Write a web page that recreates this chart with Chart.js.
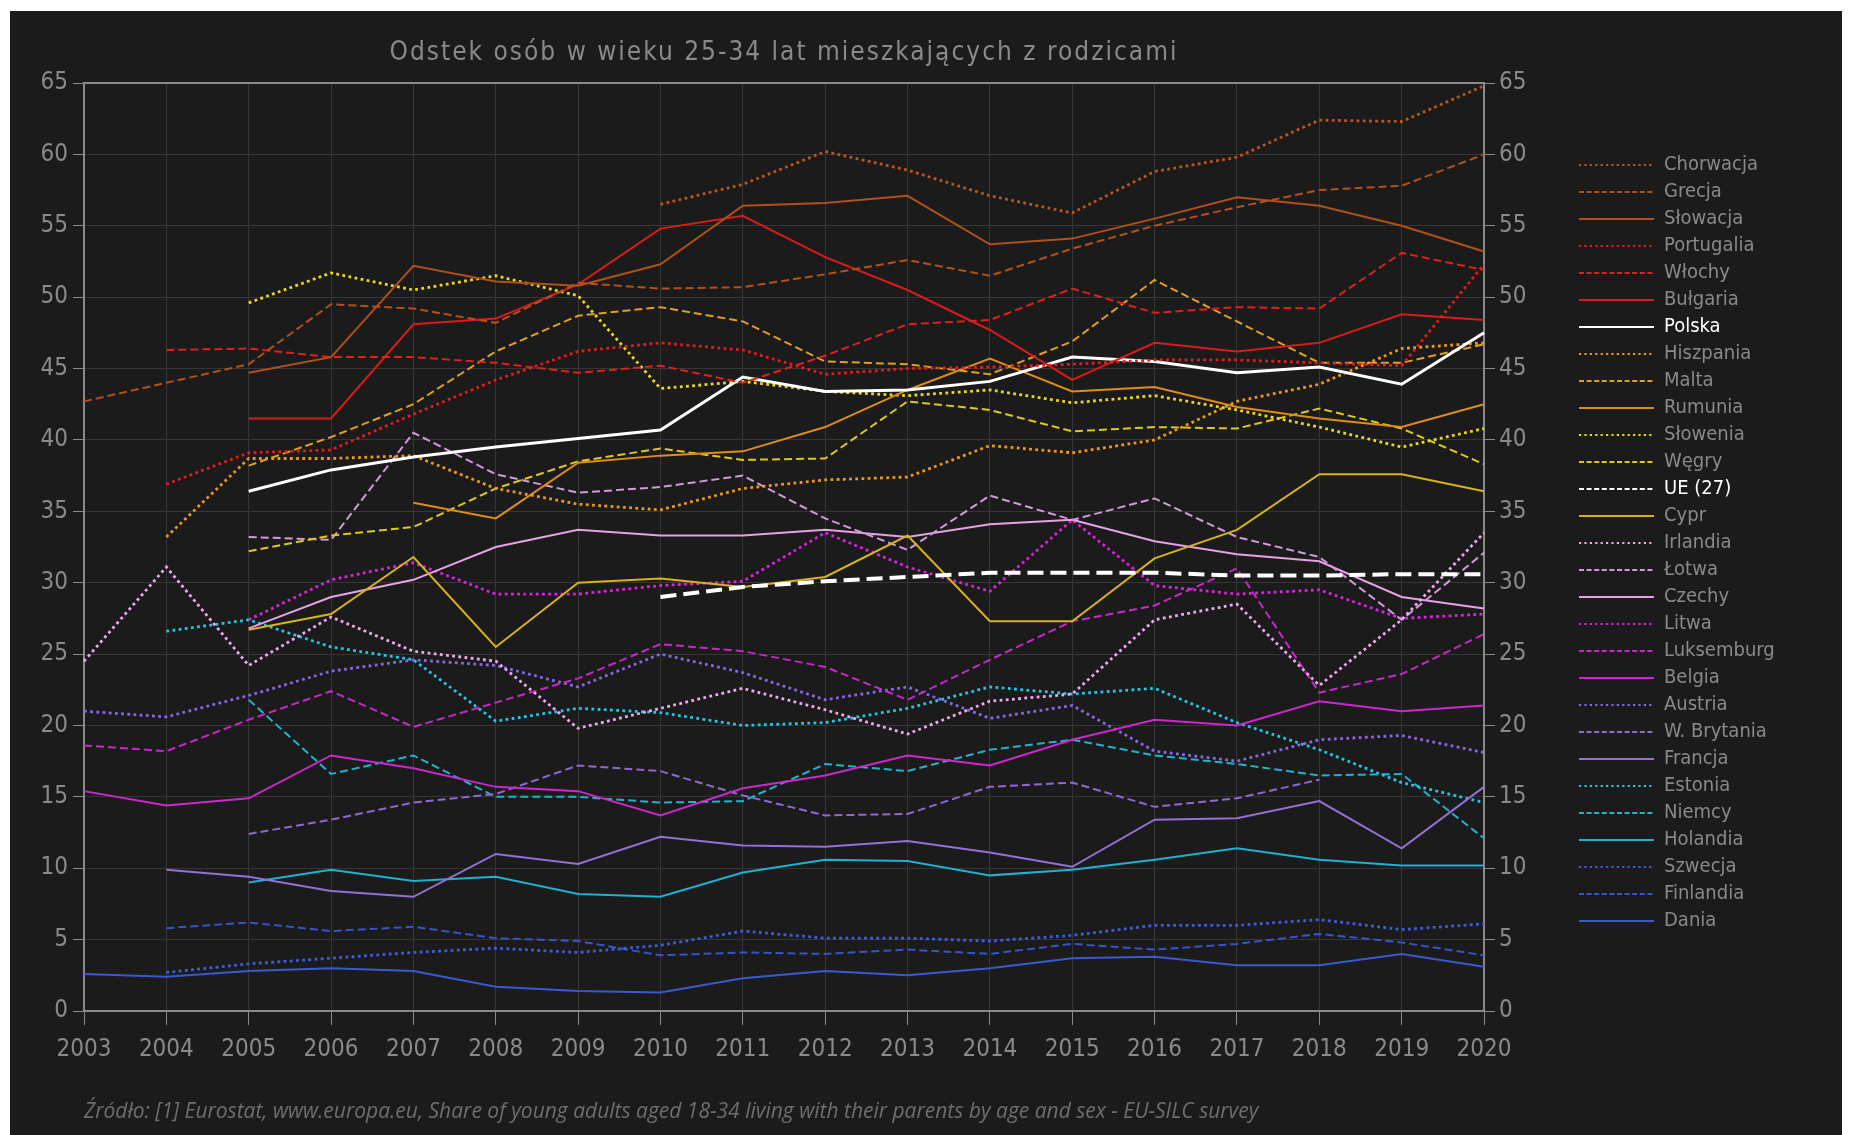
<!DOCTYPE html>
<html lang="pl">
<head>
<meta charset="utf-8">
<title>Odstek osób w wieku 25-34 lat mieszkających z rodzicami</title>
<script src="https://cdn.jsdelivr.net/npm/chart.js@4.4.1/dist/chart.umd.min.js"></script>
<style>
  html, body { margin: 0; padding: 0; background: #ffffff; }
  #panel { position: absolute; left: 10px; top: 11px; width: 1832px; height: 1124px; background: #1b1b1b; }
  #chart { position: absolute; left: 0; top: 0; }
  #title {
    position: absolute; left: 84px; width: 1400px; top: 36px; text-align: center;
    font-family: 'DejaVu Sans Condensed', 'DejaVu Sans', sans-serif; font-size: 26px;
    color: #8a8a8a; letter-spacing: 2px; white-space: nowrap;
  }
  #source {
    position: absolute; left: 84px; top: 1096px; white-space: nowrap;
    font-family: 'Open Sans', sans-serif; font-style: italic; font-size: 21px; color: #6e6e6e;
  }
</style>
</head>
<body>
<div id="panel"></div>
<canvas id="chart" width="1856" height="1135"></canvas>
<div id="title">Odstek osób w wieku 25-34 lat mieszkających z rodzicami</div>
<div id="source">Źródło: [1] Eurostat, www.europa.eu, Share of young adults aged 18-34 living with their parents by age and sex - EU-SILC survey</div>
<script>
const years = ['2003', '2004', '2005', '2006', '2007', '2008', '2009', '2010', '2011',
               '2012', '2013', '2014', '2015', '2016', '2017', '2018', '2019', '2020'];
const yTicks = [0, 5, 10, 15, 20, 25, 30, 35, 40, 45, 50, 55, 60, 65];

// values, 2003..2020, null = no data
const chorwacja  = [null, null, null, null, null, null, null, 56.5, 57.9, 60.2, 58.9, 57.1, 55.9, 58.8, 59.8, 62.4, 62.3, 64.8];
const grecja     = [42.7, 44.0, 45.3, 49.5, 49.2, 48.2, 51.0, 50.6, 50.7, 51.6, 52.6, 51.5, 53.4, 55.0, 56.3, 57.5, 57.8, 60.0];
const slowacja   = [null, null, 44.7, 45.8, 52.2, 51.1, 50.8, 52.3, 56.4, 56.6, 57.1, 53.7, 54.1, 55.5, 57.0, 56.4, 55.0, 53.2];
const portugalia = [null, 36.9, 39.1, 39.3, 41.8, 44.2, 46.2, 46.8, 46.3, 44.6, 45.0, 45.1, 45.3, 45.6, 45.6, 45.4, 45.2, 52.3];
const wlochy     = [null, 46.3, 46.4, 45.8, 45.8, 45.4, 44.7, 45.2, 44.0, 45.9, 48.1, 48.4, 50.6, 48.9, 49.3, 49.2, 53.1, 51.9];
const bulgaria   = [null, null, 41.5, 41.5, 48.1, 48.5, 50.9, 54.8, 55.7, 52.8, 50.5, 47.7, 44.2, 46.8, 46.2, 46.8, 48.8, 48.4];
const polska     = [null, null, 36.4, 37.9, 38.8, 39.5, 40.1, 40.7, 44.4, 43.4, 43.5, 44.1, 45.8, 45.5, 44.7, 45.1, 43.9, 47.5];
const hiszpania  = [null, 33.2, 38.7, 38.7, 38.9, 36.6, 35.5, 35.1, 36.6, 37.2, 37.4, 39.6, 39.1, 40.0, 42.7, 43.9, 46.4, 46.8];
const malta      = [null, null, 38.2, 40.2, 42.5, 46.2, 48.7, 49.3, 48.3, 45.5, 45.3, 44.6, 46.9, 51.2, 48.3, 45.4, 45.4, 46.7];
const rumunia    = [null, null, null, null, 35.6, 34.5, 38.4, 38.9, 39.2, 40.9, 43.5, 45.7, 43.4, 43.7, 42.3, 41.5, 40.9, 42.5];
const slowenia   = [null, null, 49.6, 51.7, 50.5, 51.5, 50.1, 43.6, 44.1, 43.4, 43.1, 43.5, 42.6, 43.1, 42.1, 40.9, 39.5, 40.8];
const wegry      = [null, null, 32.2, 33.3, 33.9, 36.6, 38.5, 39.4, 38.6, 38.7, 42.7, 42.1, 40.6, 40.9, 40.8, 42.2, 40.8, 38.3];
const ue27       = [null, null, null, null, null, null, null, 29.0, 29.7, 30.1, 30.4, 30.7, 30.7, 30.7, 30.5, 30.5, 30.6, 30.6];
const cypr       = [null, null, 26.7, 27.8, 31.8, 25.5, 30.0, 30.3, 29.7, 30.4, 33.3, 27.3, 27.3, 31.7, 33.7, 37.6, 37.6, 36.4];
const irlandia   = [24.5, 31.1, 24.2, 27.6, 25.2, 24.5, 19.8, 21.2, 22.6, 21.1, 19.4, 21.7, 22.2, 27.4, 28.5, 22.8, 27.4, 33.5];
const lotwa      = [null, null, 33.2, 33.0, 40.5, 37.6, 36.3, 36.7, 37.5, 34.5, 32.3, 36.1, 34.4, 35.9, 33.2, 31.8, 27.4, 32.1];
const czechy     = [null, null, 26.8, 29.0, 30.2, 32.5, 33.7, 33.3, 33.3, 33.7, 33.2, 34.1, 34.4, 32.9, 32.0, 31.5, 29.0, 28.2];
const litwa      = [null, null, 27.4, 30.2, 31.4, 29.2, 29.2, 29.8, 30.1, 33.5, 31.1, 29.4, 34.4, 29.8, 29.2, 29.5, 27.5, 27.8];
const luksemburg = [18.6, 18.2, 20.4, 22.4, 19.9, 21.6, 23.3, 25.7, 25.2, 24.1, 21.8, 24.6, 27.3, 28.4, 31.0, 22.3, 23.6, 26.4];
const belgia     = [15.4, 14.4, 14.9, 17.9, 17.0, 15.7, 15.4, 13.7, 15.6, 16.5, 17.9, 17.2, 19.0, 20.4, 20.0, 21.7, 21.0, 21.4];
const austria    = [21.0, 20.6, 22.1, 23.8, 24.6, 24.2, 22.7, 25.0, 23.7, 21.8, 22.7, 20.5, 21.4, 18.2, 17.5, 19.0, 19.3, 18.1];
const wBrytania  = [null, null, 12.4, 13.4, 14.6, 15.2, 17.2, 16.8, 15.1, 13.7, 13.8, 15.7, 16.0, 14.3, 14.9, 16.2, null, null];
const francja    = [null, 9.9, 9.4, 8.4, 8.0, 11.0, 10.3, 12.2, 11.6, 11.5, 11.9, 11.1, 10.1, 13.4, 13.5, 14.7, 11.4, 15.7];
const estonia    = [null, 26.6, 27.4, 25.5, 24.6, 20.3, 21.2, 20.9, 20.0, 20.2, 21.2, 22.7, 22.2, 22.6, 20.2, 18.3, 16.0, 14.6];
const niemcy     = [null, null, 21.8, 16.6, 17.9, 15.0, 15.0, 14.6, 14.7, 17.3, 16.8, 18.3, 19.0, 17.9, 17.3, 16.5, 16.6, 12.1];
const holandia   = [null, null, 9.0, 9.9, 9.1, 9.4, 8.2, 8.0, 9.7, 10.6, 10.5, 9.5, 9.9, 10.6, 11.4, 10.6, 10.2, 10.2];
const szwecja    = [null, 2.7, 3.3, 3.7, 4.1, 4.4, 4.1, 4.6, 5.6, 5.1, 5.1, 4.9, 5.3, 6.0, 6.0, 6.4, 5.7, 6.1];
const finlandia  = [null, 5.8, 6.2, 5.6, 5.9, 5.1, 4.9, 3.9, 4.1, 4.0, 4.3, 4.0, 4.7, 4.3, 4.7, 5.4, 4.8, 3.9];
const dania      = [2.6, 2.4, 2.8, 3.0, 2.8, 1.7, 1.4, 1.3, 2.3, 2.8, 2.5, 3.0, 3.7, 3.8, 3.2, 3.2, 4.0, 3.1];

const GREY = '#8a8a8a';
const GRID = '#363636';
const TICK_FONT = "'Liberation Sans Narrow', 'DejaVu Sans Condensed', sans-serif";
const LEGEND_FONT = "'DejaVu Sans Condensed', 'DejaVu Sans', sans-serif";

function series(label, data, color, style) {
    let width = 2;
    let dash = [];
    if (style === 'dot') { width = 2.8; dash = [2.8, 3.4]; }
    if (style === 'dash') { dash = [8, 4]; }
    return {
        label: label,
        data: data,
        lineStyle: style,
        borderColor: color,
        backgroundColor: color,
        borderWidth: width,
        borderDash: dash,
        pointRadius: 0,
        fill: false,
        xAxisID: 'x',
        yAxisID: 'y'
    };
}

// legend samples are thinner than the plotted lines
function legendLine(style) {
    if (style === 'dot') return { width: 2.2, dash: [2.2, 3.2] };
    if (style === 'dash') return { width: 2, dash: [5, 2.6] };
    return { width: 2.2, dash: [] };
}

const datasets = [
    series('Chorwacja', chorwacja, '#bc561e', 'dot'),
    series('Grecja', grecja, '#b4501e', 'dash'),
    series('Słowacja', slowacja, '#b0501a', 'solid'),
    series('Portugalia', portugalia, '#e41c1c', 'dot'),
    series('Włochy', wlochy, '#de2020', 'dash'),
    series('Bułgaria', bulgaria, '#d81c1c', 'solid'),
    series('Polska', polska, '#ffffff', 'solid'),
    series('Hiszpania', hiszpania, '#eb9a1e', 'dot'),
    series('Malta', malta, '#e2a020', 'dash'),
    series('Rumunia', rumunia, '#e08c1a', 'solid'),
    series('Słowenia', slowenia, '#eed81e', 'dot'),
    series('Węgry', wegry, '#dcc81e', 'dash'),
    series('UE (27)', ue27, '#ffffff', 'dash'),
    series('Cypr', cypr, '#d9b21c', 'solid'),
    series('Irlandia', irlandia, '#f0a8f0', 'dot'),
    series('Łotwa', lotwa, '#d29ada', 'dash'),
    series('Czechy', czechy, '#e6a2e6', 'solid'),
    series('Litwa', litwa, '#e020e0', 'dot'),
    series('Luksemburg', luksemburg, '#c828c8', 'dash'),
    series('Belgia', belgia, '#cc28cc', 'solid'),
    series('Austria', austria, '#8a66e6', 'dot'),
    series('W. Brytania', wBrytania, '#8c6ad0', 'dash'),
    series('Francja', francja, '#9470d8', 'solid'),
    series('Estonia', estonia, '#22c6e6', 'dot'),
    series('Niemcy', niemcy, '#20b4cc', 'dash'),
    series('Holandia', holandia, '#20b0d0', 'solid'),
    series('Szwecja', szwecja, '#3c5ee0', 'dot'),
    series('Finlandia', finlandia, '#3556c8', 'dash'),
    series('Dania', dania, '#3a58d0', 'solid')
];

// Polska and the EU average are drawn heavier
datasets[6].borderWidth = 3;
datasets[12].borderWidth = 4;
datasets[12].borderDash = [16, 7];

// legend width: line 75 + gap 10 + longest label, so the plot keeps its right edge
const measureCtx = document.createElement('canvas').getContext('2d');
measureCtx.font = '20px ' + LEGEND_FONT;
const longestLabel = Math.max(...datasets.map(d => measureCtx.measureText(d.label).width));
const legendWidth = Math.ceil(8 + 75 + 10 + longestLabel + 4);
const rightPad = 1856 - 1484 - 88 - legendWidth;

const tickFont = { family: TICK_FONT, size: 24 };

new Chart(document.getElementById('chart'), {
    type: 'line',
    data: { labels: years, datasets: datasets },
    options: {
        responsive: false,
        animation: false,
        layout: { padding: { top: 83, bottom: 64, left: 0, right: rightPad } },
        elements: { line: { tension: 0 }, point: { radius: 0 } },
        plugins: {
            tooltip: { enabled: false },
            legend: {
                position: 'right',
                align: 'start',
                maxWidth: legendWidth,
                title: { display: true, text: '', font: { size: 10, lineHeight: 1 }, padding: { top: 55, bottom: 0 } },
                labels: {
                    usePointStyle: true,
                    pointStyleWidth: 75,
                    boxHeight: 20,
                    padding: 7,
                    color: GREY,
                    font: { family: LEGEND_FONT, size: 20 },
                    generateLabels: (chart) => chart.data.datasets.map((ds, i) => {
                        const sample = legendLine(ds.lineStyle);
                        return {
                            text: ds.label,
                            fillStyle: ds.borderColor,
                            strokeStyle: ds.borderColor,
                            lineWidth: sample.width,
                            lineDash: sample.dash,
                            lineCap: 'butt',
                            pointStyle: 'line',
                            fontColor: ds.borderColor === '#ffffff' ? '#ffffff' : GREY,
                            hidden: false,
                            datasetIndex: i
                        };
                    })
                }
            }
        },
        scales: {
            x: {
                position: 'bottom',
                ticks: { color: GREY, font: tickFont, padding: 10, maxRotation: 0, autoSkip: false },
                grid: { color: GRID, tickColor: GREY, tickLength: 14 },
                border: { color: GREY, width: 2 },
                afterFit: (scale) => { scale.height = 60; }
            },
            xTop: {
                position: 'top',
                ticks: { display: false },
                grid: { display: false },
                border: { color: GREY, width: 2 },
                afterFit: (scale) => { scale.height = 0; }
            },
            y: {
                position: 'left',
                min: 0,
                max: 65,
                afterBuildTicks: (scale) => { scale.ticks = yTicks.map(v => ({ value: v })); },
                ticks: { color: GREY, font: tickFont, padding: 5 },
                grid: { color: GRID, tickColor: GREY, tickLength: 11 },
                border: { color: GREY, width: 2 },
                afterFit: (scale) => { scale.width = 84; }
            },
            y2: {
                position: 'right',
                min: 0,
                max: 65,
                afterBuildTicks: (scale) => { scale.ticks = yTicks.map(v => ({ value: v })); },
                ticks: { color: GREY, font: tickFont, padding: 4 },
                grid: { drawOnChartArea: false, tickColor: GREY, tickLength: 11 },
                border: { color: GREY, width: 2 },
                afterFit: (scale) => { scale.width = 88; }
            }
        }
    }
});
</script>
</body>
</html>
